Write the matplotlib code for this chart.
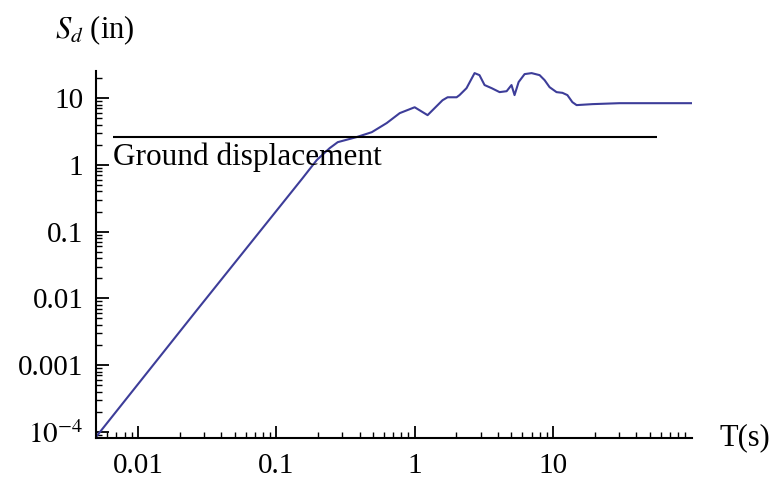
import matplotlib
matplotlib.use("Agg")
import matplotlib.pyplot as plt

# Displacement response spectrum (period in s, Sd in inches)
period = [0.005, 0.0267, 0.155, 0.196, 0.243, 0.278, 0.381, 0.49, 0.628,
          0.78, 1.0, 1.24, 1.59, 1.73, 2.01, 2.11, 2.37, 2.71, 2.94, 3.2,
          3.6, 4.11, 4.62, 5.01, 5.27, 5.64, 6.23, 7.0, 8.0, 8.69, 9.44,
          10.6, 11.7, 12.7, 13.8, 14.8, 19.3, 30.2, 100.0]
sd = [8.5e-5, 0.0067, 0.634, 1.18, 1.78, 2.19, 2.61, 3.09, 4.23,
      5.96, 7.3, 5.56, 9.3, 10.3, 10.3, 11.1, 14.1, 23.7, 22.1, 15.7,
      14.1, 12.3, 12.7, 15.7, 11.1, 17.4, 22.9, 23.7, 22.1, 18.6, 14.6,
      12.3, 12.0, 11.1, 8.7, 7.86, 8.13, 8.4, 8.4]

ground_disp = 2.6
ground_span = [0.0066, 56.0]

ytick_vals = [1e-4, 1e-3, 1e-2, 1e-1, 1, 10]
ytick_labels = ["$10^{-4}$", "0.001", "0.01", "0.1", "1", "10"]
xtick_vals = [0.01, 0.1, 1, 10]
xtick_labels = ["0.01", "0.1", "1", "10"]

plt.rcParams["font.family"] = ["Liberation Serif", "DejaVu Serif"]
plt.rcParams["mathtext.fontset"] = "stix"

fig = plt.figure(figsize=(7.77, 4.87), dpi=100)
ax = fig.add_axes([0.1236, 0.1006, 0.767, 0.7534])

ax.loglog(period, sd, color="#3d3d99", lw=1.5)
ax.hlines(ground_disp, ground_span[0], ground_span[1], color="black", lw=1.5)
ax.text(ground_span[0], 2.15, "Ground displacement", fontsize=22.5,
        ha="left", va="top")

ax.set_xlim(0.00498, 101)
ax.set_ylim(8.1e-5, 25.4)

ax.set_xticks(xtick_vals)
ax.set_xticklabels(xtick_labels)
ax.set_yticks(ytick_vals)
ax.set_yticklabels(ytick_labels)

for side in ("top", "right"):
    ax.spines[side].set_visible(False)
for side in ("left", "bottom"):
    ax.spines[side].set_linewidth(1.5)

ax.tick_params(which="major", direction="in", length=9, width=1.3,
               labelsize=21, pad=9)
ax.tick_params(which="minor", direction="in", length=4, width=1.0)
ax.tick_params(axis="x", which="major", pad=11)

fig.text(55 / 777, 1 - 30 / 487, "$S_d$ (in)", fontsize=22,
         ha="left", va="center")
fig.text(720 / 777, 1 - 438 / 487, "T(s)", fontsize=22,
         ha="left", va="center")

fig.savefig("out.png", dpi=100)
